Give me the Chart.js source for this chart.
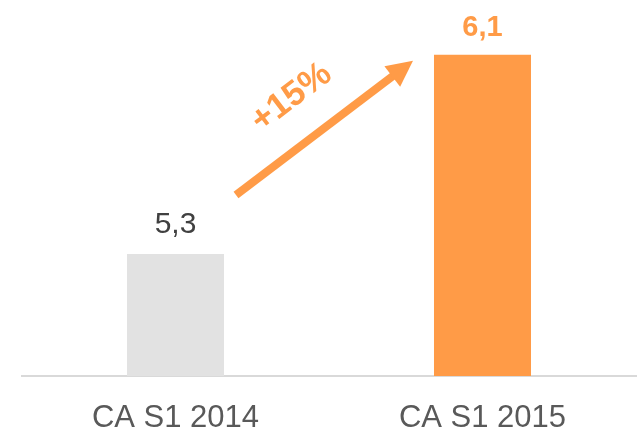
<!DOCTYPE html>
<html>
<head>
<meta charset="utf-8">
<script src="https://cdn.jsdelivr.net/npm/chart.js@4"></script>
<style>
  html, body { margin: 0; padding: 0; background: #fff; }
  #wrap { width: 638px; height: 433px; position: relative; }
</style>
</head>
<body>
<div id="wrap"><canvas id="caChart"></canvas></div>
<script>
const categories = ['CA S1 2014', 'CA S1 2015'];
const values = [5.3, 6.1];
const valueLabels = ['5,3', '6,1'];
const growthLabel = '+15%';

const ORANGE = '#FF9B47';
const GREY_BAR = '#E2E2E2';

// valeurs au-dessus des barres + flèche de croissance
const annotations = {
  id: 'annotations',
  afterDatasetsDraw(chart) {
    const ctx = chart.ctx;
    const bars = chart.getDatasetMeta(0).data;
    const b1 = bars[0], b2 = bars[1];
    const half1 = b1.width / 2, half2 = b2.width / 2;

    ctx.save();
    ctx.textAlign = 'center';
    ctx.textBaseline = 'alphabetic';
    ctx.font = '30px "Liberation Sans", Arial, sans-serif';
    ctx.fillStyle = '#404040';
    ctx.fillText(valueLabels[0], b1.x, b1.y - 21);
    ctx.font = 'bold 29px "Liberation Sans", Arial, sans-serif';
    ctx.fillStyle = ORANGE;
    ctx.fillText(valueLabels[1], b2.x, b2.y - 19);

    // flèche
    const sx = b1.x + half1 + 12, sy = b1.y - 59;
    const tx = b2.x - half2 - 21, ty = b2.y + 6;
    const ang = Math.atan2(ty - sy, tx - sx);
    const headLen = 26, headHalf = 13;
    const bx = tx - Math.cos(ang) * headLen, by = ty - Math.sin(ang) * headLen;
    ctx.strokeStyle = ORANGE;
    ctx.lineWidth = 8;
    ctx.lineCap = 'butt';
    ctx.beginPath();
    ctx.moveTo(sx, sy);
    ctx.lineTo(bx + Math.cos(ang) * 2, by + Math.sin(ang) * 2);
    ctx.stroke();
    ctx.fillStyle = ORANGE;
    ctx.beginPath();
    ctx.moveTo(tx, ty);
    ctx.lineTo(bx + Math.sin(ang) * headHalf, by - Math.cos(ang) * headHalf);
    ctx.lineTo(bx - Math.sin(ang) * headHalf, by + Math.cos(ang) * headHalf);
    ctx.closePath();
    ctx.fill();

    // +15%
    const mx = (sx + tx) / 2, my = (sy + ty) / 2;
    const nx = Math.sin(ang), ny = -Math.cos(ang);
    const cx = mx + nx * 44 - Math.cos(ang) * 8;
    const cy = my + ny * 44 - Math.sin(ang) * 8;
    ctx.translate(cx, cy);
    ctx.rotate(ang);
    ctx.font = 'bold 35px "Liberation Sans", Arial, sans-serif';
    ctx.textBaseline = 'middle';
    ctx.fillText(growthLabel, 0, 0);
    ctx.restore();
  }
};

new Chart(document.getElementById('caChart'), {
  type: 'bar',
  data: {
    labels: categories,
    datasets: [{
      data: values,
      backgroundColor: [GREY_BAR, ORANGE],
      borderWidth: 0,
      barPercentage: 1,
      categoryPercentage: 0.316
    }]
  },
  options: {
    responsive: true,
    maintainAspectRatio: false,
    animation: false,
    layout: { padding: { left: 22, right: 2, top: 0, bottom: -28 } },
    plugins: { legend: { display: false }, tooltip: { enabled: false } },
    scales: {
      x: {
        grid: { display: false, drawTicks: false },
        border: { display: true, color: '#D9D9D9', width: 2 },
        ticks: {
          color: '#595959',
          padding: 27,
          font: { family: '"Liberation Sans", Arial, sans-serif', size: 31, lineHeight: 1 }
        }
      },
      y: { display: false, min: 4.81, max: 6.32 }
    }
  },
  plugins: [annotations]
});
</script>
</body>
</html>
